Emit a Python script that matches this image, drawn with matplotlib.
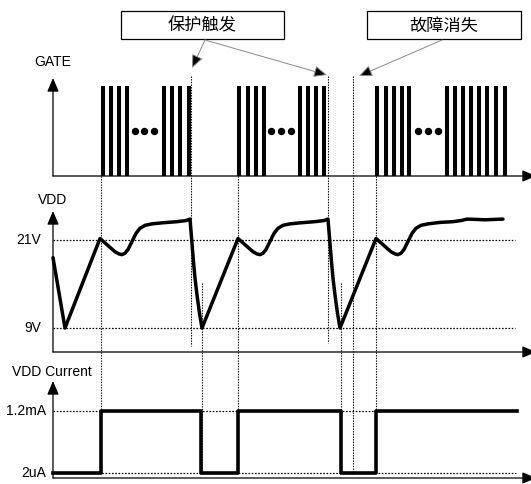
import matplotlib
matplotlib.use("Agg")
import matplotlib.pyplot as plt
from matplotlib.patches import Rectangle

plt.rcParams['font.family'] = ['Liberation Sans', 'Noto Sans CJK SC', 'DejaVu Sans']

# ---------------- data (time in arbitrary units) ----------------
gate_pulses_1 = [50, 58, 66, 74, 111, 119, 127, 136]
gate_pulses_2 = [186, 195, 203, 211, 247, 255, 263, 271]
gate_pulses_3 = [324, 333, 341, 349, 356, 394, 402, 410, 418, 426, 434, 443, 452]
gate_dots = [82, 91, 101, 218, 228, 238, 365, 375, 385]
gate_high = 1.0

vdd_t = [0, 12, 47, 52, 57, 62, 66, 69, 72, 75, 79, 83, 87, 92, 99, 110, 124, 133, 137,
         139, 140.5, 142, 144, 146.5, 149,
         185, 190, 195, 200, 204, 207, 210, 213, 217, 221, 225, 230, 237, 248, 262, 271, 275,
         277, 278.5, 280, 282, 284.5, 287,
         323, 328, 333, 338, 342, 345, 348, 351, 355, 359, 363, 368, 375, 387, 400, 408, 414,
         425, 432, 440, 450]
vdd_v = [18.6, 9.0, 21.2, 20.6, 20.0, 19.4, 19.1, 19.0, 19.2, 19.7, 20.8, 21.9, 22.6, 23.0, 23.2, 23.35, 23.5, 23.65, 23.85,
         20.5, 18.0, 15.8, 13.5, 11.0, 9.0,
         21.2, 20.6, 20.0, 19.4, 19.1, 19.0, 19.2, 19.7, 20.8, 21.9, 22.6, 23.0, 23.2, 23.35, 23.5, 23.65, 23.85,
         20.5, 18.0, 15.8, 13.5, 11.0, 9.0,
         21.2, 20.6, 20.0, 19.4, 19.1, 19.0, 19.2, 19.7, 20.8, 21.9, 22.6, 23.0, 23.2, 23.4, 23.5, 23.65, 23.85,
         23.8, 23.75, 23.8, 23.85]
vdd_levels = [21, 9]
vdd_level_labels = ['21V', '9V']

cur_t = [0, 48, 148, 185, 288, 323, 464]
cur_ma = [0.002, 1.2, 0.002, 1.2, 0.002, 1.2, 1.2]
cur_levels = [1.2, 0.002]
cur_level_labels = ['1.2mA', '2uA']

# event guide lines: time, top (px), bottom (px)
guide_t = [48, 138, 185, 275, 300, 323, 149, 288]
guide_top = [176, 76, 176, 76, 76, 176, 283, 283]
guide_bot = [474, 346, 474, 343, 474, 474, 474, 474]

# ---------------- layout ----------------
W, H = 531, 484
fig = plt.figure(figsize=(W / 100, H / 100), dpi=100)
X0, X1 = -53, 478


def panel(px_top, px_bot, pa, va, pb, vb):
    # linear map pixel->value from two anchors
    k = (vb - va) / (pb - pa)
    vtop = va + (px_top - pa) * k
    vbot = va + (px_bot - pa) * k
    ax = fig.add_axes([0, 1 - px_bot / H, 1, (px_bot - px_top) / H])
    ax.set_xlim(X0, X1)
    ax.set_ylim(vbot, vtop)
    ax.axis('off')
    return ax, vbot, vtop


ov = fig.add_axes([0, 0, 1, 1])
ov.set_xlim(X0, X1)
ov.set_ylim(H, 0)
ov.axis('off')

axg, g0, g1 = panel(78, 176, 176, 0.0, 86, 1.0)
axv, v0, v1 = panel(211, 352, 240, 21.0, 328, 9.0)
axc, c0, c1 = panel(381, 478, 411, 1.2, 473, 0.002)

head = '-|>,head_length=0.75,head_width=0.32'
for ax, lo, hi in [(axg, g0, g1), (axv, v0, v1), (axc, c0, c1)]:
    ax.annotate('', xy=(0, hi), xytext=(0, lo), annotation_clip=False,
                arrowprops=dict(arrowstyle=head, lw=0.9, color='black',
                                shrinkA=0, shrinkB=0, mutation_scale=11))
    ax.annotate('', xy=(483, lo), xytext=(0, lo), annotation_clip=False,
                arrowprops=dict(arrowstyle=head, lw=0.9, color='black',
                                shrinkA=0, shrinkB=0, mutation_scale=11))

# GATE
for pulses in (gate_pulses_1, gate_pulses_2, gate_pulses_3):
    axg.vlines(pulses, 0, gate_high, colors='black', lw=2.9, clip_on=False)
axg.plot(gate_dots, [0.5] * len(gate_dots), 'o', color='black', ms=4.3, clip_on=False)

# VDD
for lv in vdd_levels:
    axv.plot([0, 462], [lv, lv], color='black', lw=0.9, ls=(0, (1.3, 1.3)), clip_on=False)
axv.plot(vdd_t, vdd_v, color='black', lw=2.5, solid_joinstyle='round',
         solid_capstyle='round', clip_on=False)
for lv, lb in zip(vdd_levels, vdd_level_labels):
    axv.text(-12, lv, lb, ha='right', va='center', fontsize=10)

# current
for lv in cur_levels:
    axc.plot([0, 463], [lv, lv], color='black', lw=0.9, ls=(0, (1.3, 1.3)), clip_on=False)
axc.step(cur_t, cur_ma, where='post', color='black', lw=2.6, clip_on=False)
for lv, lb in zip(cur_levels, cur_level_labels):
    axc.text(-7, lv, lb, ha='right', va='center', fontsize=10)

# guide lines
for t, a, b in zip(guide_t, guide_top, guide_bot):
    ov.plot([t, t], [a, b], color='black', lw=0.8, ls=(0, (1.2, 1.2)))

# titles
ov.text(-19, 62, 'GATE', ha='left', va='center', fontsize=10)
ov.text(-15, 200, 'VDD', ha='left', va='center', fontsize=10)
ov.text(-41, 372, 'VDD Current', ha='left', va='center', fontsize=10)

# callout boxes
for (xa, xb, label) in [(68, 231, '保护触发'), (314, 468, '故障消失')]:
    ov.add_patch(Rectangle((xa, 11), xb - xa, 28, fill=False, ec='black', lw=0.9))
    ov.text((xa + xb) / 2, 25.5, label, ha='center', va='center', fontsize=12.4,
            family=['Noto Sans CJK SC', 'DejaVu Sans'])

arrows = [((152, 40), (139, 68)), ((152, 40), (274, 75)), ((389, 40), (306, 76))]
for start, tip in arrows:
    ov.annotate('', xy=tip, xytext=start,
                arrowprops=dict(arrowstyle='-|>,head_length=0.8,head_width=0.35',
                                lw=0.7, edgecolor='#8a8a8a', facecolor='black',
                                shrinkA=0, shrinkB=0, mutation_scale=10))

fig.savefig('out.png', dpi=100)
